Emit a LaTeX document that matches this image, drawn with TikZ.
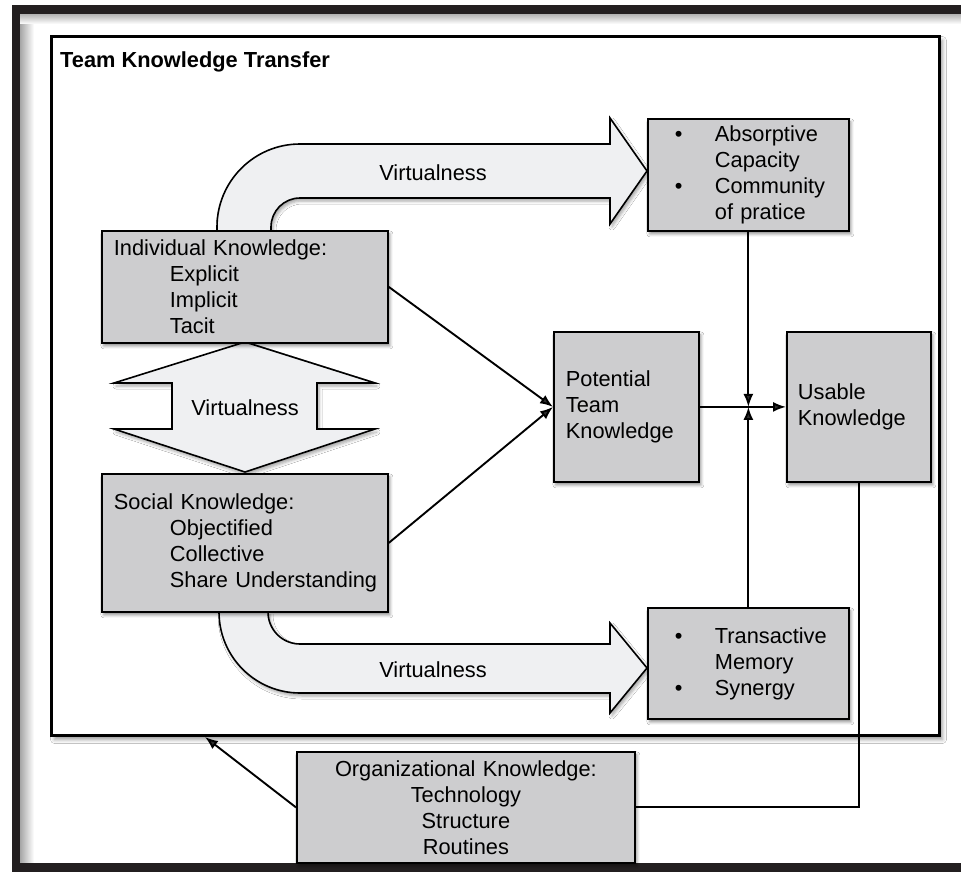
\documentclass[tikz,border=0pt]{standalone}
\usepackage{fontspec}
\setmainfont{Liberation Sans}
\usetikzlibrary{arrows.meta,shadows.blur,positioning,calc}

\definecolor{boxgray}{HTML}{CDCDCF}
\definecolor{arrowfill}{HTML}{EFF0F2}
\definecolor{framedark}{HTML}{231F20}

\newcommand{\bulitem}[1]{\makebox[57pt][l]{\hspace*{17pt}\textbullet}#1}
\newcommand{\bulrest}[1]{\hspace*{57pt}#1}

\begin{document}
\begin{tikzpicture}[x=1pt,y=-1pt,font=\fontsize{21.8}{26}\selectfont]
\tikzstyle{block}=[draw=black,line width=1.8pt,fill=boxgray,anchor=north west,align=left,inner ysep=0pt,
  blur shadow={shadow xshift=2pt,shadow yshift=-3pt,shadow blur radius=3pt,shadow opacity=45}]
\tikzstyle{bigarrow}=[draw=black,line width=1.6pt,fill=arrowfill,
  blur shadow={shadow xshift=2pt,shadow yshift=-3pt,shadow blur radius=3pt,shadow opacity=35}]
\tikzstyle{followed}=[-{Latex[length=13pt,width=10pt]},line width=1.9pt]

\useasboundingbox[fill=white] (0,0) rectangle (961,872);

% outer frame
\shade[left color=black!35,right color=white] (20,14) rectangle (34,863);
\shade[top color=black!30,bottom color=white] (20,14) rectangle (961,24);
\fill[framedark] (12,5) rectangle (961,14);
\fill[framedark] (12,5) rectangle (20,872);
\fill[framedark] (12,863) rectangle (961,872);

% team frame
\node[draw=black,line width=3pt,fill=white,anchor=north west,minimum width=888pt,minimum height=699pt,inner sep=0pt,
  blur shadow={shadow xshift=3pt,shadow yshift=-4pt,shadow blur radius=4pt,shadow opacity=40}] (team) at (50,35) {};
\node[anchor=base west,inner sep=0pt,font=\fontsize{21.8}{26}\selectfont\bfseries] (title) at (60,68) {Team Knowledge Transfer};

% virtualness arrows
\draw[bigarrow] (217,230) -- (217,227) arc[start angle=180,end angle=90,radius=83pt]
  -- (610,144) -- (610,118) -- (647,171) -- (610,224) -- (610,198) -- (300,198)
  arc[start angle=90,end angle=180,radius=29pt] -- (271,230);
\node (vtop) at (433,173) {Virtualness};

\draw[bigarrow] (219,611) -- (219,612) arc[start angle=180,end angle=270,radius=81pt]
  -- (610,693) -- (610,713) -- (647,668) -- (610,623) -- (610,644) -- (300,644)
  arc[start angle=270,end angle=180,radius=32pt] -- (268,611);
\node (vbot) at (433,670) {Virtualness};

\draw[bigarrow] (245,342) -- (375,383) -- (317,383) -- (317,429) -- (375,429) -- (245,472)
  -- (114,429) -- (172,429) -- (172,383) -- (114,383) -- cycle;
\node (vmid) at (245,408) {Virtualness};

% boxes
\node[block,text width=262pt,inner xsep=12pt,minimum height=112pt] (indiv) at (101,230)
  {Individual Knowledge:\\\hspace*{56pt}Explicit\\\hspace*{56pt}Implicit\\\hspace*{56pt}Tacit};
\node[block,text width=262pt,inner xsep=12pt,minimum height=138pt] (social) at (101,473)
  {Social Knowledge:\\\hspace*{56pt}Objectified\\\hspace*{56pt}Collective\\\hspace*{56pt}\mbox{Share Understanding}};
\node[block,text width=121pt,inner xsep=12pt,minimum height=150pt] (potential) at (553,331)
  {Potential\\Team\\Knowledge};
\node[block,text width=122pt,inner xsep=11pt,minimum height=150pt] (usable) at (786,331)
  {Usable\\Knowledge};
\node[block,text width=181pt,inner xsep=10pt,minimum height=112pt] (absorb) at (647,118)
  {\bulitem{Absorptive}\\\bulrest{Capacity}\\\bulitem{Community}\\\bulrest{of pratice}};
\node[block,text width=181pt,inner xsep=10pt,minimum height=111pt] (transact) at (647,607)
  {\bulitem{Transactive}\\\bulrest{Memory}\\\bulitem{Synergy}};
\node[block,align=center,text width=314pt,inner xsep=12pt,minimum height=111pt] (org) at (296,751)
  {Organizational Knowledge:\\Technology\\Structure\\Routines};

% connectors
\path
  (indiv.east) edge [followed] (potential.west)
  (social.east) edge [followed] (potential.west)
  (potential.east) edge [followed] (usable.west)
  (absorb.south) edge [followed] (absorb.south |- potential.east)
  (transact.north) edge [followed] (transact.north |- potential.east);
\draw[line width=1.9pt] (usable.south) |- (org.east);
\draw[followed] (org.west) -- ([xshift=155pt]team.south west);
\end{tikzpicture}
\end{document}
